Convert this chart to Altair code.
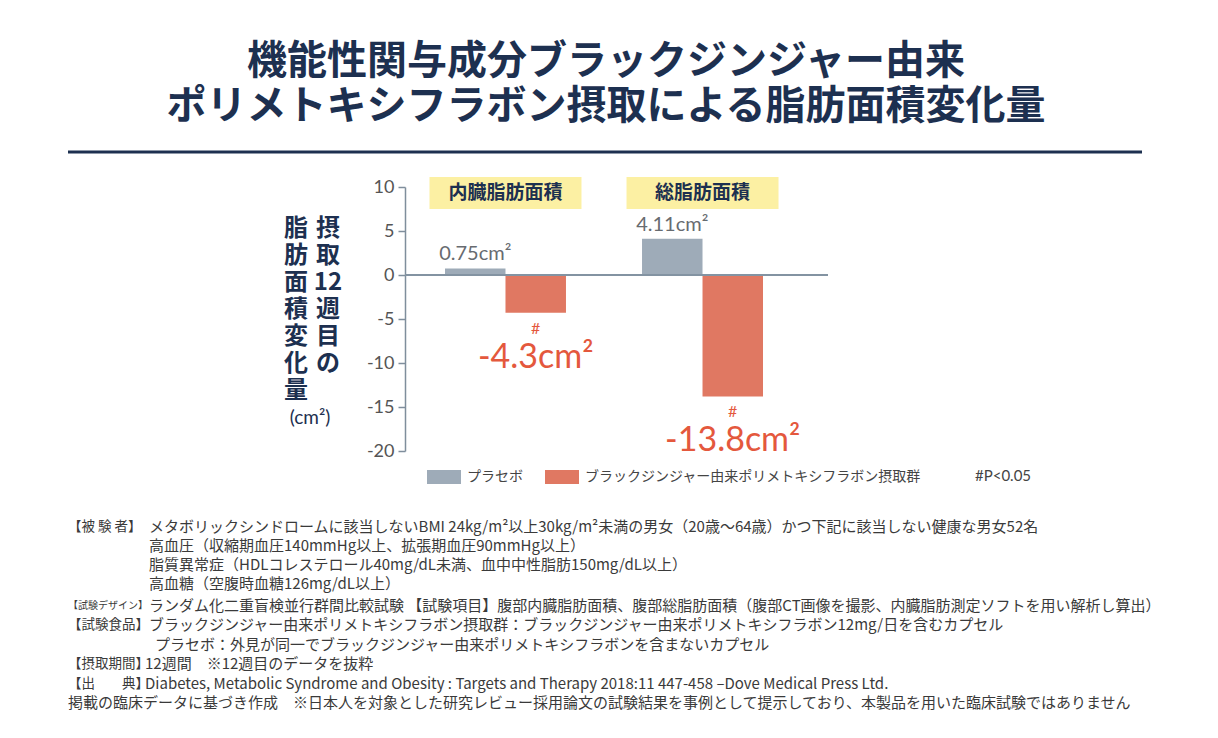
import altair as alt
import pandas as pd

# ---------------- data ----------------
title_lines = ["機能性関与成分ブラックジンジャー由来", "ポリメトキシフラボン摂取による脂肪面積変化量"]
groups = ["内臓脂肪面積", "総脂肪面積"]
series = ["プラセボ", "ブラックジンジャー由来ポリメトキシフラボン摂取群"]
placebo_values = [0.75, 4.11]
treatment_values = [-4.3, -13.8]
placebo_labels = ["0.75cm²", "4.11cm²"]
treatment_labels = ["-4.3cm²", "-13.8cm²"]
sig_marks = ["#", "#"]
y_ticks = [10, 5, 0, -5, -10, -15, -20]
y_title_right = ["摂", "取", "12", "週", "目", "の"]
y_title_left = ["脂", "肪", "面", "積", "変", "化", "量"]
y_unit = "(cm²)"
sig_note = "#P<0.05"
footnote_labels = ["【被 験 者】", "", "", "", "【試験デザイン】", "【試験食品】", "", "【摂取期間】", "【出　　典】", ""]
footnote_texts = [
    "メタボリックシンドロームに該当しないBMI 24kg/m²以上30kg/m²未満の男女（20歳～64歳）かつ下記に該当しない健康な男女52名",
    "高血圧（収縮期血圧140mmHg以上、拡張期血圧90mmHg以上）",
    "脂質異常症（HDLコレステロール40mg/dL未満、血中中性脂肪150mg/dL以上）",
    "高血糖（空腹時血糖126mg/dL以上）",
    "ランダム化二重盲検並行群間比較試験 【試験項目】腹部内臓脂肪面積、腹部総脂肪面積（腹部CT画像を撮影、内臓脂肪測定ソフトを用い解析し算出）",
    "ブラックジンジャー由来ポリメトキシフラボン摂取群：ブラックジンジャー由来ポリメトキシフラボン12mg/日を含むカプセル",
    "プラセボ：外見が同一でブラックジンジャー由来ポリメトキシフラボンを含まないカプセル",
    "12週間　※12週目のデータを抜粋",
    "Diabetes, Metabolic Syndrome and Obesity : Targets and Therapy 2018:11 447-458 –Dove Medical Press Ltd.",
    "掲載の臨床データに基づき作成　※日本人を対象とした研究レビュー採用論文の試験結果を事例として提示しており、本製品を用いた臨床試験ではありません",
]

rows = []
for g, pv, tv, pl, tl, sm in zip(groups, placebo_values, treatment_values, placebo_labels, treatment_labels, sig_marks):
    rows.append({"group": g, "series": series[0], "value": pv, "label": pl, "sig": ""})
    rows.append({"group": g, "series": series[1], "value": tv, "label": tl, "sig": sm})
df = pd.DataFrame(rows)
df_groups = pd.DataFrame({"group": groups})

# ---------------- style ----------------
FONT = "Noto Sans CJK JP"
NUM_FONT = "Lato"
NAVY = "#1d3050"
GRAY_BAR = "#9eabb8"
RED_BAR = "#e07862"
RED_TXT = "#e4583d"
GRAY_TXT = "#676b70"
YELLOW = "#fcf0a3"
AXIS_C = "#7f8e9c"
NOTE_C = "#3a3a3a"

W, H = 423, 264

xenc = alt.X("group:N", sort=groups, title=None, axis=None,
             scale=alt.Scale(domain=groups, range=[0, 398], paddingInner=0.386, paddingOuter=0.203))
xoff = alt.XOffset("series:N", sort=series,
                   scale=alt.Scale(domain=series, paddingInner=0, paddingOuter=0))
yscale = alt.Scale(domain=[-20, 10], nice=False, zero=False)
yenc = alt.Y("value:Q", scale=yscale, title=None,
             axis=alt.Axis(values=y_ticks, grid=False, domainColor=AXIS_C, domainWidth=1.5,
                           tickColor=AXIS_C, tickWidth=1.5, tickSize=7, labelPadding=4,
                           labelExpr="'' + datum.value",
                           labelFont=NUM_FONT, labelFontSize=18, labelColor="#555555"))

boxes = alt.Chart(df_groups).mark_bar(width=152, color=YELLOW).encode(
    x=xenc, y=alt.value(-10), y2=alt.value(22))
box_text = alt.Chart(df_groups).mark_text(font=FONT, fontSize=19, fontWeight="bold", color=NAVY,
                                          baseline="middle").encode(
    x=xenc, y=alt.value(6), text="group:N")

bars = alt.Chart(df).mark_bar().encode(
    x=xenc, xOffset=xoff, y=yenc,
    color=alt.Color("series:N", sort=series,
                    scale=alt.Scale(domain=series, range=[GRAY_BAR, RED_BAR]),
                    legend=alt.Legend(orient="none", legendX=22, legendY=273, direction="horizontal",
                                      title=None, symbolType="M-1,-0.41L1,-0.41L1,0.41L-1,0.41Z",
                                      symbolSize=1156, symbolStrokeWidth=0, symbolOpacity=1,
                                      labelFont=FONT, labelFontSize=14, labelColor="#444444",
                                      labelOffset=6, columnPadding=22, labelLimit=500)))

zero_rule = alt.Chart(df_groups).mark_rule(color="#8393a2", strokeWidth=2).encode(
    y=alt.datum(0), x=alt.value(0), x2=alt.value(W))

plac_text = alt.Chart(df[df["series"] == series[0]]).mark_text(
    font=NUM_FONT, fontSize=20, color=GRAY_TXT, baseline="bottom", dy=-4).encode(
    x=xenc, xOffset=xoff, y=alt.Y("value:Q", scale=yscale), text="label:N")
sig_text = alt.Chart(df[df["series"] == series[1]]).mark_text(
    font=NUM_FONT, fontSize=16, color=RED_TXT, baseline="middle", dy=16).encode(
    x=xenc, xOffset=xoff, y=alt.Y("value:Q", scale=yscale), text="sig:N")
treat_text = alt.Chart(df[df["series"] == series[1]]).mark_text(
    font=NUM_FONT, fontSize=34, color=RED_TXT, baseline="middle", dy=45).encode(
    x=xenc, xOffset=xoff, y=alt.Y("value:Q", scale=yscale), text="label:N")


def note(text, x, y, **kw):
    return alt.Chart(pd.DataFrame({"t": [text]})).mark_text(**kw).encode(
        x=alt.value(x), y=alt.value(y), text="t:N")


layers = [boxes, box_text, bars, zero_rule, plac_text, sig_text, treat_text]

# y axis title (vertical columns)
layers.append(note("\n".join(y_title_left), -109, 42, font=FONT, fontSize=24, fontWeight="bold",
                   color=NAVY, align="center", baseline="middle", lineBreak="\n", lineHeight=27))
layers.append(note("\n".join(y_title_right), -77, 42, font=FONT, fontSize=24, fontWeight="bold",
                   color=NAVY, align="center", baseline="middle", lineBreak="\n", lineHeight=27))
layers.append(note(y_unit, -95, 231, font=NUM_FONT, fontSize=19, color=NAVY, align="center",
                   baseline="middle"))
layers.append(note(sig_note, 570, 289, font=NUM_FONT, fontSize=15, color="#444444", align="left",
                   baseline="middle"))

# main title
for t, ty in zip(title_lines, [-125, -80]):
    layers.append(note(t, 201, ty, font=FONT, fontSize=40, fontWeight="bold", color=NAVY,
                       align="center", baseline="middle"))

# separator rule under title
layers.append(alt.Chart(df_groups.head(1)).mark_rule(color=NAVY, strokeWidth=3).encode(
    x=alt.value(-337), x2=alt.value(737), y=alt.value(-35)))

# footnotes
line_y = [340, 359, 378, 397, 419, 438, 458, 477, 497, 516]
text_x = [-256, -256, -256, -256, -256, -256, -250, -260, -260, -337]
for lab, txt, ly, tx in zip(footnote_labels, footnote_texts, line_y, text_x):
    if lab:
        fs = 10 if len(lab) > 7 else 13.5
        layers.append(note(lab, -337, ly, font=FONT, fontSize=fs, color=NOTE_C, align="left",
                           baseline="middle"))
    layers.append(note(txt, tx, ly, font=FONT, fontSize=15, color=NOTE_C, align="left",
                       baseline="middle"))

chart = alt.layer(*layers).properties(
    width=W, height=H,
    autosize=alt.AutoSizeParams(type="none"),
    padding={"left": 397, "top": 179, "right": 380, "bottom": 266},
    background="white",
).configure_view(strokeWidth=0)

chart.save("out.html", embed_options={"renderer": "svg", "actions": False})
